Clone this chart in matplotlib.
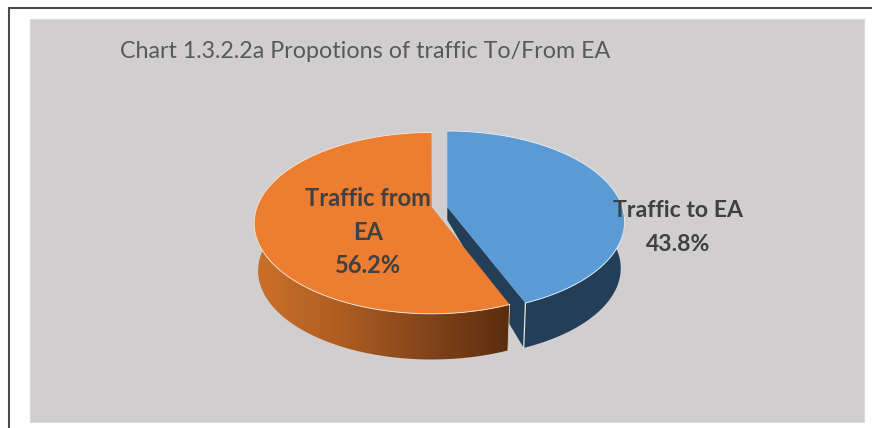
import numpy as np
import matplotlib
matplotlib.use("Agg")
import matplotlib.pyplot as plt
from matplotlib.patches import Polygon, Rectangle
from matplotlib.colors import LinearSegmentedColormap

categories = ["Traffic to EA", "Traffic from EA"]
label_lines = ["Traffic to EA\n43.8%", "Traffic from\nEA\n56.2%"]
shares = [43.8, 56.2]
title = "Chart 1.3.2.2a Propotions of traffic To/From EA"

plt.rcParams["font.family"] = ["Lato", "DejaVu Sans"]
fig = plt.figure(figsize=(8.72, 4.28), dpi=100, facecolor="white")
ax = fig.add_axes([0, 0, 1, 1])
ax.set_xlim(0, 872)
ax.set_ylim(428, 0)
ax.axis("off")

# frame + panel
ax.plot([9, 9], [428, 7], color="#4A4A4A", lw=1.5, solid_capstyle="butt")
ax.plot([8.5, 872], [7.5, 7.5], color="#4A4A4A", lw=1.5, solid_capstyle="butt")
ax.add_patch(Rectangle((29.5, 19), 834.5, 403, fc="#D0CECE", ec="#DADADA", lw=0.8))


def project(theta, cx, cy, drop=0.0, scale=1.0):
    """Perspective view of a disc; theta clockwise from 12 o'clock (radians)."""
    u, v = np.sin(theta), np.cos(theta)
    k = 0.1615
    d = 1 + k * v
    return cx + scale * 175 * u / d, cy + drop - scale * 88.3 * v / d


SCALE = 0.978
fractions = np.array(shares) / sum(shares)
edges = np.concatenate([[0], np.cumsum(fractions)]) * 2 * np.pi
blue_c = (447.3, 207)
orange_c = (431.5, 208.5)
blue_hub = (447.3, 207)
orange_hub = (431.7, 207)
BLUE_DEPTH = 47
ORANGE_DEPTH = 48

# blue side wall
t = np.linspace(edges[0], edges[1], 200)
front = t[t > np.pi / 2 - 0.17]
x1, y1 = project(front, *blue_c)
x2, y2 = project(front[::-1], *blue_c, BLUE_DEPTH, SCALE)
ax.add_patch(Polygon(np.c_[np.r_[x1, x2], np.r_[y1, y2]], fc="#223F57", ec="none", zorder=2))
# blue cut wall
xe, ye = project(edges[1], *blue_c)
xb, yb = project(edges[1], *blue_c, BLUE_DEPTH, SCALE)
ax.add_patch(Polygon([blue_hub, (blue_hub[0], blue_hub[1] + 13), (xb, yb), (xe, ye)],
                     fc="#223F57", ec="none", zorder=2))
ax.plot([xe, xb], [ye, yb], color="#E6E6E6", lw=0.9, zorder=3)
# blue top
x, y = project(t, *blue_c)
ax.add_patch(Polygon(np.c_[np.r_[blue_hub[0], x], np.r_[blue_hub[1], y]], fc="#5B9BD5",
                     ec="none", zorder=4))
ax.plot(x, y, color="#E8EEF4", lw=0.65, zorder=5)

# orange side wall with gradient
t = np.linspace(edges[1], edges[2], 300)
front = t[t < 3 * np.pi / 2 + 0.17]
x1, y1 = project(front, *orange_c)
x2, y2 = project(front[::-1], *orange_c, ORANGE_DEPTH, SCALE)
side = Polygon(np.c_[np.r_[x1, x2], np.r_[y1, y2]], fc="none", ec="none", zorder=2,
               transform=ax.transData)
ax.add_patch(side)
cmap = LinearSegmentedColormap.from_list("side", ["#CC7029", "#AE5E22", "#84451B", "#5C2D0D"])
im = ax.imshow(np.linspace(0, 1, 256)[None, :], extent=(254, 508, 365, 215), cmap=cmap,
               aspect="auto", zorder=2)
im.set_clip_path(side)
ax.set_xlim(0, 872)
ax.set_ylim(428, 0)
ax.plot([x1[0], x2[-1]], [y1[0], y2[-1]], color="#D8D0C8", lw=0.6, zorder=3)
# orange top
x, y = project(t, *orange_c)
ax.add_patch(Polygon(np.c_[np.r_[orange_hub[0], x], np.r_[orange_hub[1], y]], fc="#EC7D31",
                     ec="none", zorder=4))
ax.plot(x, y, color="#F3E6DA", lw=0.65, zorder=5)

# texts
ax.text(119.5, 51.5, title, color="#595959", fontsize=16.75, ha="left", va="center", zorder=6)
ax.text(678, 227.5, label_lines[0], color="#404040", fontsize=16.6, fontweight="bold",
        ha="center", va="center", linespacing=1.72, zorder=6)
ax.text(368, 232, label_lines[1], color="#404040", fontsize=17, fontweight="bold",
        ha="center", va="center", linespacing=1.56, zorder=6)

fig.savefig("out.png", dpi=100, facecolor="white")
